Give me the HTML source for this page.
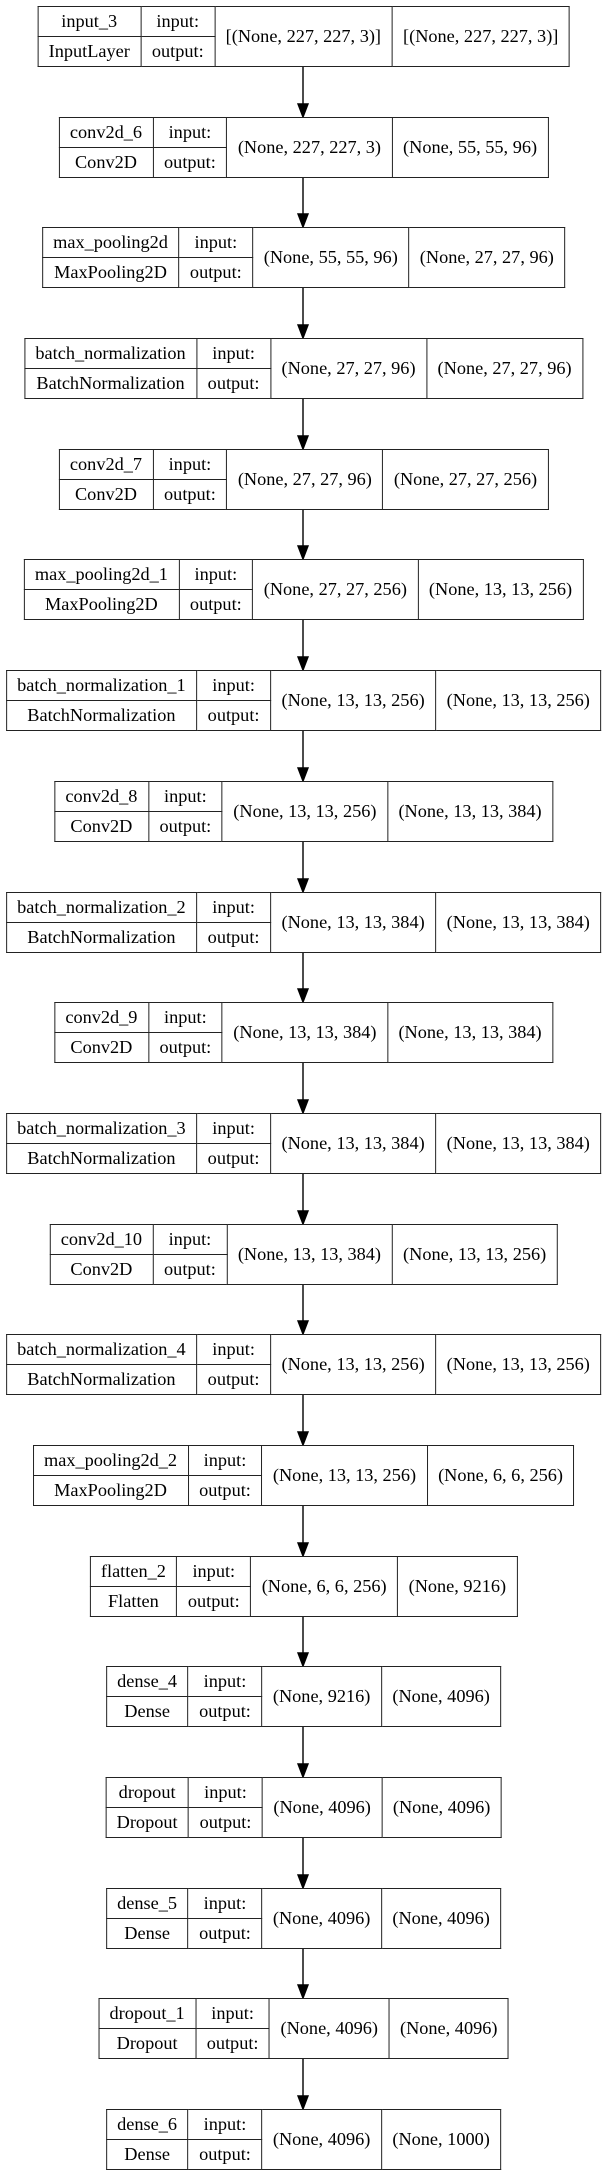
<!DOCTYPE html>
<html><head><meta charset="utf-8"><style>
html,body{margin:0;padding:0;background:#fff;}
body{width:607px;height:2176px;position:relative;overflow:hidden;}
table.n{position:absolute;left:303.5px;transform:translateX(-50%);border-collapse:collapse;font-family:"Liberation Serif",serif;font-size:18.3px;color:#000;background:#fff;}
table.n td{border:1.4px solid #222;padding:0 10.5px;height:29px;text-align:center;white-space:nowrap;line-height:1;}
svg{position:absolute;left:0;top:0;}
</style></head><body>
<svg width="607" height="2176">
<g stroke="#000" stroke-width="1.4" fill="#000">
<line x1="303" y1="67" x2="303" y2="104"/><polygon points="298,104 308,104 303,117"/>
<line x1="303" y1="178" x2="303" y2="214"/><polygon points="298,214 308,214 303,227"/>
<line x1="303" y1="288" x2="303" y2="325"/><polygon points="298,325 308,325 303,338"/>
<line x1="303" y1="399" x2="303" y2="436"/><polygon points="298,436 308,436 303,449"/>
<line x1="303" y1="510" x2="303" y2="546"/><polygon points="298,546 308,546 303,559"/>
<line x1="303" y1="620" x2="303" y2="657"/><polygon points="298,657 308,657 303,670"/>
<line x1="303" y1="731" x2="303" y2="768"/><polygon points="298,768 308,768 303,781"/>
<line x1="303" y1="842" x2="303" y2="879"/><polygon points="298,879 308,879 303,892"/>
<line x1="303" y1="953" x2="303" y2="989"/><polygon points="298,989 308,989 303,1002"/>
<line x1="303" y1="1063" x2="303" y2="1100"/><polygon points="298,1100 308,1100 303,1113"/>
<line x1="303" y1="1174" x2="303" y2="1211"/><polygon points="298,1211 308,1211 303,1224"/>
<line x1="303" y1="1285" x2="303" y2="1321"/><polygon points="298,1321 308,1321 303,1334"/>
<line x1="303" y1="1395" x2="303" y2="1432"/><polygon points="298,1432 308,1432 303,1445"/>
<line x1="303" y1="1506" x2="303" y2="1543"/><polygon points="298,1543 308,1543 303,1556"/>
<line x1="303" y1="1617" x2="303" y2="1653"/><polygon points="298,1653 308,1653 303,1666"/>
<line x1="303" y1="1727" x2="303" y2="1764"/><polygon points="298,1764 308,1764 303,1777"/>
<line x1="303" y1="1838" x2="303" y2="1875"/><polygon points="298,1875 308,1875 303,1888"/>
<line x1="303" y1="1949" x2="303" y2="1985"/><polygon points="298,1985 308,1985 303,1998"/>
<line x1="303" y1="2059" x2="303" y2="2096"/><polygon points="298,2096 308,2096 303,2109"/>
</g></svg>

<table class="n" style="top:6px"><tr><td>input_3</td><td>input:</td><td rowspan="2">[(None, 227, 227, 3)]</td><td rowspan="2">[(None, 227, 227, 3)]</td></tr><tr><td>InputLayer</td><td>output:</td></tr></table>
<table class="n" style="top:117px"><tr><td>conv2d_6</td><td>input:</td><td rowspan="2">(None, 227, 227, 3)</td><td rowspan="2">(None, 55, 55, 96)</td></tr><tr><td>Conv2D</td><td>output:</td></tr></table>
<table class="n" style="top:227px"><tr><td>max_pooling2d</td><td>input:</td><td rowspan="2">(None, 55, 55, 96)</td><td rowspan="2">(None, 27, 27, 96)</td></tr><tr><td>MaxPooling2D</td><td>output:</td></tr></table>
<table class="n" style="top:338px"><tr><td>batch_normalization</td><td>input:</td><td rowspan="2">(None, 27, 27, 96)</td><td rowspan="2">(None, 27, 27, 96)</td></tr><tr><td>BatchNormalization</td><td>output:</td></tr></table>
<table class="n" style="top:449px"><tr><td>conv2d_7</td><td>input:</td><td rowspan="2">(None, 27, 27, 96)</td><td rowspan="2">(None, 27, 27, 256)</td></tr><tr><td>Conv2D</td><td>output:</td></tr></table>
<table class="n" style="top:559px"><tr><td>max_pooling2d_1</td><td>input:</td><td rowspan="2">(None, 27, 27, 256)</td><td rowspan="2">(None, 13, 13, 256)</td></tr><tr><td>MaxPooling2D</td><td>output:</td></tr></table>
<table class="n" style="top:670px"><tr><td>batch_normalization_1</td><td>input:</td><td rowspan="2">(None, 13, 13, 256)</td><td rowspan="2">(None, 13, 13, 256)</td></tr><tr><td>BatchNormalization</td><td>output:</td></tr></table>
<table class="n" style="top:781px"><tr><td>conv2d_8</td><td>input:</td><td rowspan="2">(None, 13, 13, 256)</td><td rowspan="2">(None, 13, 13, 384)</td></tr><tr><td>Conv2D</td><td>output:</td></tr></table>
<table class="n" style="top:892px"><tr><td>batch_normalization_2</td><td>input:</td><td rowspan="2">(None, 13, 13, 384)</td><td rowspan="2">(None, 13, 13, 384)</td></tr><tr><td>BatchNormalization</td><td>output:</td></tr></table>
<table class="n" style="top:1002px"><tr><td>conv2d_9</td><td>input:</td><td rowspan="2">(None, 13, 13, 384)</td><td rowspan="2">(None, 13, 13, 384)</td></tr><tr><td>Conv2D</td><td>output:</td></tr></table>
<table class="n" style="top:1113px"><tr><td>batch_normalization_3</td><td>input:</td><td rowspan="2">(None, 13, 13, 384)</td><td rowspan="2">(None, 13, 13, 384)</td></tr><tr><td>BatchNormalization</td><td>output:</td></tr></table>
<table class="n" style="top:1224px"><tr><td>conv2d_10</td><td>input:</td><td rowspan="2">(None, 13, 13, 384)</td><td rowspan="2">(None, 13, 13, 256)</td></tr><tr><td>Conv2D</td><td>output:</td></tr></table>
<table class="n" style="top:1334px"><tr><td>batch_normalization_4</td><td>input:</td><td rowspan="2">(None, 13, 13, 256)</td><td rowspan="2">(None, 13, 13, 256)</td></tr><tr><td>BatchNormalization</td><td>output:</td></tr></table>
<table class="n" style="top:1445px"><tr><td>max_pooling2d_2</td><td>input:</td><td rowspan="2">(None, 13, 13, 256)</td><td rowspan="2">(None, 6, 6, 256)</td></tr><tr><td>MaxPooling2D</td><td>output:</td></tr></table>
<table class="n" style="top:1556px"><tr><td>flatten_2</td><td>input:</td><td rowspan="2">(None, 6, 6, 256)</td><td rowspan="2">(None, 9216)</td></tr><tr><td>Flatten</td><td>output:</td></tr></table>
<table class="n" style="top:1666px"><tr><td>dense_4</td><td>input:</td><td rowspan="2">(None, 9216)</td><td rowspan="2">(None, 4096)</td></tr><tr><td>Dense</td><td>output:</td></tr></table>
<table class="n" style="top:1777px"><tr><td>dropout</td><td>input:</td><td rowspan="2">(None, 4096)</td><td rowspan="2">(None, 4096)</td></tr><tr><td>Dropout</td><td>output:</td></tr></table>
<table class="n" style="top:1888px"><tr><td>dense_5</td><td>input:</td><td rowspan="2">(None, 4096)</td><td rowspan="2">(None, 4096)</td></tr><tr><td>Dense</td><td>output:</td></tr></table>
<table class="n" style="top:1998px"><tr><td>dropout_1</td><td>input:</td><td rowspan="2">(None, 4096)</td><td rowspan="2">(None, 4096)</td></tr><tr><td>Dropout</td><td>output:</td></tr></table>
<table class="n" style="top:2109px"><tr><td>dense_6</td><td>input:</td><td rowspan="2">(None, 4096)</td><td rowspan="2">(None, 1000)</td></tr><tr><td>Dense</td><td>output:</td></tr></table>
</body></html>
